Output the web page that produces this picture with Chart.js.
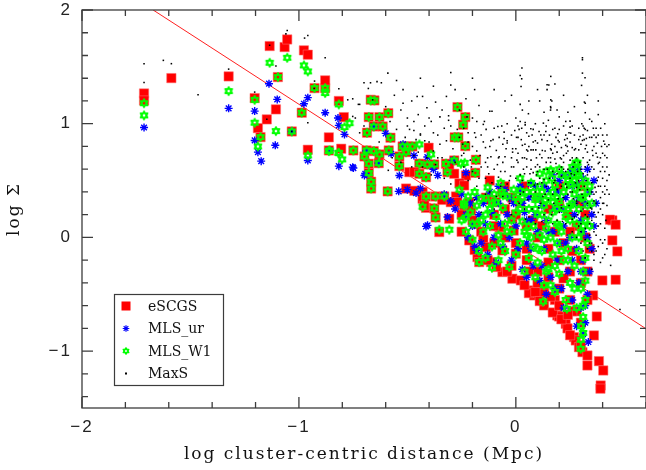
<!DOCTYPE html>
<html><head><meta charset="utf-8">
<script src="https://cdn.jsdelivr.net/npm/chart.js@4.4.1/dist/chart.umd.min.js"></script>
<style>html,body{margin:0;padding:0;background:#fff;}canvas{display:block;}</style>
</head><body><canvas id="c" width="646" height="470"></canvas>
<script>
const seriesLabels = ['eSCGS', 'MLS_ur', 'MLS_W1', 'MaxS'];
const xTitle = 'log cluster-centric distance (Mpc)';
const yTitle = 'log \u03A3';
const xTickValues = [-2, -1, 0];
const yTickValues = [-1, 0, 1, 2];
const fitX = [-1.672, 0.6];
const fitY = [2.0, -0.803];

const escgs = [
[-1.714,1.266],[-1.714,1.204],[-1.588,1.401],[-1.324,1.416],[-1.204,1.225],[-1.189,0.961],[-1.177,0.882],[-1.148,1.038],[-1.135,1.683],[-1.097,1.41],
[-1.106,1.126],[-1.066,1.674],[-1.054,1.741],[-1.033,0.932],[-0.987,1.097],[-0.977,1.645],[-0.959,1.607],[-0.959,0.771],[-0.928,1.313],[-0.879,1.313],
[-0.879,1.381],[-0.862,0.88],[-0.862,0.765],[-0.816,1.2],[-0.793,1.058],[-0.805,0.78],[-0.749,0.765],[-0.669,1.211],[-0.652,1.205],[-0.678,1.058],
[-0.629,1.058],[-0.588,1.093],[-0.655,0.976],[-0.614,0.976],[-0.686,0.921],[-0.578,0.877],[-0.698,0.712],[-0.678,0.648],[-0.632,0.653],[-0.655,0.759],
[-0.586,0.765],[-0.678,0.566],[-0.629,0.73],[-0.688,0.765],[-0.667,0.49],[-0.667,0.43],[-0.591,0.405],[-0.522,0.80],[-0.50,0.80],[-0.477,0.80],
[-0.506,0.75],[-0.537,0.712],[-0.537,0.627],[-0.491,0.574],[-0.402,0.789],[-0.408,0.642],[-0.376,0.642],[-0.445,0.648],[-0.468,0.574],[-0.322,0.648],
[-0.284,0.677],[-0.187,0.568],[-0.23,0.545],[-0.315,0.574],[-0.269,1.146],[-0.233,1.058],[-0.243,0.991],[-0.282,0.88],[-0.265,0.88],[-0.233,0.803],
[-0.184,0.683],[-0.414,0.53],[-0.445,0.56],[-0.506,0.43],[-0.468,0.41],[-0.43,0.40],[-0.43,0.34],[-0.414,0.26],[-0.414,0.36],[-0.37,0.36],
[-0.33,0.36],[-0.276,0.36],[-0.422,0.28],[-0.376,0.255],[-0.37,0.176],[-0.353,0.047],[-0.238,0.28],[-0.207,0.255],[-0.307,0.62],[-0.284,0.56],
[-0.26,0.475],[-0.238,0.457],[-0.34,0.33],[-0.30,0.31],[-0.27,0.31],[-0.307,0.164],[-0.215,0.31],[-0.207,0.237],[-0.138,0.35],[-0.115,0.33],
[-0.092,0.31],[-0.184,0.12],[-0.16,0.05],[-0.15,-0.02],[-0.138,-0.085],[-0.215,-0.026],[-0.1,-0.05],[-0.062,-0.114],[-0.07,0.09],[-0.01,0.06],
[-0.016,0.164],[-0.063,0.40],[-0.017,0.35],[0.0,-0.143],[-0.177,-0.173],[-0.19,-0.11],[-0.169,-0.217],[-0.115,-0.217],[-0.062,-0.305],[-0.016,-0.363],
[0.023,-0.378],[0.077,-0.466],[0.084,-0.51],[0.13,-0.598],[0.191,-0.686],[0.23,-0.76],[0.238,-0.80],[0.268,-0.877],[0.276,-0.906],[0.291,-0.965],
[0.307,-1.009],[0.33,-1.038],[0.33,-1.126],[0.36,-0.862],[0.373,-0.695],[0.356,-0.51],[0.383,-1.088],[0.403,-1.17],[0.391,-1.302],[0.39,-1.33],
[0.399,-0.378],[0.46,-0.372],[0.468,-0.123],[0.445,0.15],[0.434,0.156],[0.46,0.112],[0.445,-0.026],[0.13,-0.437],[0.13,-0.495],[0.199,-0.695],
[0.0,0.2],[0.05,0.1],[0.1,0.0],[0.15,-0.1],[0.2,-0.2],[0.25,-0.3],[0.3,-0.4],[0.05,-0.2],[0.1,-0.3],[0.15,-0.35],
[0.2,-0.45],[0.25,-0.55],[0.28,-0.65],[0.3,-0.75],[-0.05,0.0],[0.0,-0.05],[0.05,-0.1],[0.08,0.15],[0.12,0.1],[0.18,0.05],
[0.22,-0.05],[0.26,-0.12],[0.3,-0.2],[0.32,0.0],[0.28,0.1],[0.24,0.2],[0.3,0.3],[0.2,0.3],[0.15,0.25],[-0.1,0.2],
[-0.05,0.25],[0.02,0.3],[0.1,0.35],[-0.12,0.5],[-0.05,0.45],[0.04,0.45],[0.2,0.45],[0.3,0.45],[0.32,0.2],[0.25,0.05],
[-0.02,-0.25],[0.06,-0.3],[0.15,-0.22],[0.22,-0.36],[0.18,-0.55],[0.26,-0.65],[0.33,-0.55],[0.33,-0.3],[0.34,-0.1],[-0.1,0.1],
[-0.2,0.15],[-0.25,0.05],[-0.25,0.2],[0.06,-0.49],[0.09,-0.48],[0.11,-0.56],[0.17,-0.66],[0.21,-0.72],[0.25,-0.86],[0.3,-0.95],
[-0.09,-0.26],[-0.04,-0.3],[0.04,-0.42],[0.1,-0.4],[0.16,-0.52],[0.2,-0.6],[0.24,-0.68],[-0.13,-0.2]
];

const mlsUr = [
[-1.714,0.967],[-1.324,1.135],[-1.204,1.111],[-1.204,0.853],[-1.189,0.75],[-1.174,0.671],[-1.138,1.352],[-1.1,1.214],[-1.109,0.81],[-1.033,0.932],
[-0.977,1.176],[-0.959,1.229],[-0.959,0.677],[-0.879,1.097],[-0.859,0.765],[-0.79,0.906],[-0.816,0.985],[-0.816,0.627],[-0.749,0.61],[-0.752,0.618],
[-0.82,1.05],[-0.694,0.56],[-0.655,0.976],[-0.698,0.545],[-0.60,0.915],[-0.575,0.736],[-0.52,0.82],[-0.537,0.545],[-0.54,0.405],[-0.408,0.707],
[-0.36,0.546],[-0.29,0.677],[-0.23,0.57],[-0.414,0.097],[-0.407,0.106],[-0.315,0.179],[-0.181,-0.114],[-0.33,0.38],[-0.3,0.32],[-0.28,0.25],
[-0.634,0.653],[-0.69,0.76],[-0.5,0.42],[-0.46,0.39],[-0.44,0.43],[-0.47,0.72],[-0.38,0.6],
[-0.25,0.38],[-0.23,0.20],[-0.22,0.0],[-0.21,0.30],[-0.2,0.10],[-0.19,-0.08],[-0.18,0.35],[-0.17,0.2],[-0.16,-0.05],[-0.15,0.30],
[-0.14,0.12],[-0.13,-0.15],[-0.12,0.40],[-0.11,0.22],[-0.1,0.0],[-0.09,-0.22],[-0.08,0.30],[-0.07,0.12],[-0.06,-0.08],[-0.05,0.42],
[-0.04,0.20],[-0.03,0.0],[-0.02,-0.20],[-0.01,0.30],[0.0,0.10],[0.01,-0.10],[0.02,0.42],[0.03,-0.28],[0.04,0.22],[0.05,-0.05],
[0.06,0.35],[0.07,0.15],[0.08,-0.25],[0.09,0.45],[0.1,0.05],[0.11,-0.38],[0.12,0.28],[0.13,-0.10],[0.14,0.15],[0.15,0.42],
[0.16,-0.35],[0.17,0.05],[0.18,0.25],[0.19,-0.20],[0.2,0.50],[0.21,-0.45],[0.22,0.10],[0.23,0.35],[0.24,-0.30],[0.25,0.0],
[0.26,0.45],[0.26,-0.55],[0.27,0.20],[0.28,-0.10],[0.29,0.35],[0.29,-0.40],[0.3,0.15],[0.3,-0.62],[0.31,0.52],[0.31,-0.20],
[0.32,-0.75],[0.32,0.30],[0.33,0.0],[0.33,-0.50],[0.34,0.40],[0.34,-0.30],[0.35,0.20],[0.35,-0.1],[0.334,-0.92],[0.31,-0.85],
[0.261,0.589],[0.28,0.47],[0.22,0.55],[0.36,0.5],[0.37,0.3],[0.36,0.1],[0.05,-0.35],[0.14,-0.5],[0.22,-0.62],[0.28,-0.78],
[0.069,0.47],[0.02,0.45],[0.261,0.596],
[0.03,0.3],[0.07,-0.1],[0.11,0.35],[0.15,0.05],[0.19,0.4],[0.23,-0.05],[0.27,0.3],[0.31,0.05],[0.25,0.55],[0.17,0.55],
[0.13,0.45],[0.09,0.2],[0.05,0.15],[-0.03,0.35],[-0.08,0.45],[0.21,0.25],[0.29,0.6],[0.33,0.6],[0.32,-0.6],[0.3,-0.3],
[0.18,-0.45],[0.12,-0.25],[0.26,-0.2],[0.2,-0.05]
];

const mlsW1 = [
[-1.714,1.18],[-1.714,1.073],[-1.324,1.287],[-1.204,1.21],[-1.204,1.009],[-1.189,0.80],[-1.177,0.882],[-1.135,1.536],[-1.097,1.41],[-1.106,0.935],
[-1.054,1.58],[-1.033,0.932],[-0.987,1.097],[-0.977,1.513],[-0.959,1.46],[-0.959,0.721],[-0.928,1.313],[-0.879,1.313],[-0.879,1.27],[-0.859,0.765],
[-0.862,0.759],[-0.816,0.741],[-0.801,0.686],[-0.749,0.765],[-0.816,1.17],[-0.767,1.005],[-0.79,0.97],[-0.818,0.745],
[-0.669,1.205],[-0.652,1.205],[-0.678,1.058],[-0.629,1.058],[-0.588,1.093],[-0.655,0.976],[-0.614,0.976],[-0.686,0.921],[-0.578,0.877],[-0.698,0.712],
[-0.678,0.648],[-0.632,0.653],[-0.655,0.759],[-0.586,0.765],[-0.678,0.566],[-0.629,0.73],[-0.688,0.765],[-0.667,0.49],[-0.667,0.43],[-0.591,0.405],
[-0.522,0.80],[-0.50,0.80],[-0.477,0.80],[-0.506,0.75],[-0.537,0.712],[-0.537,0.627],[-0.445,0.818],[-0.391,0.73],[-0.408,0.642],[-0.376,0.642],
[-0.445,0.648],[-0.322,0.648],[-0.284,0.677],[-0.253,0.648],[-0.236,0.656],[-0.184,0.683],[-0.187,0.568],[-0.315,0.574],[-0.269,1.146],[-0.233,1.058],
[-0.243,0.991],[-0.282,0.88],[-0.265,0.88],[-0.233,0.803],[-0.445,0.56],[-0.414,0.53],[-0.43,0.27],[-0.376,0.255],[-0.37,0.176],[-0.353,0.068],
[-0.307,0.068],[-0.414,0.36],[-0.37,0.36],[-0.33,0.36],[-0.238,0.28],[-0.23,0.176],[-0.2,0.12],[-0.169,-0.217],[-0.11,-0.267],[-0.138,0.35],
[-0.092,0.31],[-0.063,0.40],
[-0.26,0.42],[-0.24,0.30],[-0.25,0.15],[-0.23,0.05],[-0.22,0.36],[-0.21,0.22],[-0.2,-0.02],[-0.19,0.40],[-0.18,0.12],[-0.18,0.28],
[-0.17,-0.12],[-0.16,0.34],[-0.15,0.05],[-0.14,0.20],[-0.14,-0.18],[-0.13,0.44],[-0.12,0.10],[-0.11,0.30],[-0.11,-0.08],[-0.10,0.38],
[-0.09,0.18],[-0.08,-0.20],[-0.08,0.02],[-0.07,0.48],[-0.06,0.26],[-0.05,0.12],[-0.05,-0.12],[-0.04,0.36],[-0.03,-0.26],[-0.02,0.05],
[-0.01,0.42],[0.0,0.22],[0.0,-0.15],[0.01,0.32],[0.02,-0.05],[0.02,0.52],[0.03,0.14],[0.04,-0.30],[0.05,0.40],[0.05,0.02],
[0.06,0.25],[0.06,-0.18],[0.07,0.48],[0.08,-0.08],[0.08,0.10],[0.09,0.33],[0.09,-0.35],[0.10,0.20],[0.10,-0.22],[0.11,0.56],
[0.11,0.02],[0.12,0.40],[0.12,-0.12],[0.13,-0.42],[0.13,0.28],[0.14,0.08],[0.14,0.50],[0.15,-0.28],[0.15,0.36],[0.16,0.0],
[0.16,0.59],[0.17,-0.15],[0.17,0.22],[0.18,0.46],[0.18,-0.48],[0.19,0.12],[0.19,-0.05],[0.2,0.32],[0.2,-0.32],[0.21,0.55],
[0.21,0.05],[0.22,-0.20],[0.22,0.40],[0.23,-0.55],[0.23,0.18],[0.24,0.50],[0.24,-0.10],[0.25,0.28],[0.25,-0.40],[0.26,0.62],
[0.26,0.0],[0.27,0.38],[0.27,-0.25],[0.28,0.12],[0.28,-0.62],[0.28,0.54],[0.29,-0.12],[0.29,0.25],[0.3,-0.45],[0.3,0.45],
[0.3,0.05],[0.31,-0.30],[0.31,-0.70],[0.31,0.35],[0.32,-0.18],[0.32,0.15],[0.32,-0.55],[0.33,-0.05],[0.33,0.28],[0.31,-0.84],
[0.3,-0.78],[0.32,-0.38],[0.34,0.45],[0.34,0.1],[0.35,0.3],
[0.284,0.657],[0.161,0.589],[0.26,0.54],[0.167,0.52],[0.25,0.47],[0.275,0.43],[0.10,0.35],[0.135,0.33],[0.17,0.31],[0.02,0.41],
[-0.06,0.37],[0.19,0.25],[0.24,0.25],[0.276,0.657],[0.24,0.55],[0.29,0.55],[0.126,-0.563],[0.235,-0.627],[0.299,-0.979],[0.3,-0.9],
[0.31,-0.6],
[-0.02,0.15],[0.03,0.35],[0.07,0.0],[0.09,0.25],[0.11,0.45],[0.13,-0.02],[0.15,0.15],[0.17,0.40],[0.19,0.35],[0.21,-0.12],
[0.23,0.45],[0.25,0.15],[0.27,0.5],[0.29,0.0],[0.31,0.1],[0.33,0.4],[0.22,0.25],[0.2,0.1],[0.18,-0.25],[0.16,-0.42],
[0.14,-0.3],[0.12,0.2],[0.1,-0.1],[0.08,0.4],[0.06,0.1],[0.04,0.05],[0.02,0.25],[0.0,0.35],[-0.04,0.05],[-0.07,-0.05],
[-0.12,0.25],[-0.16,0.15],[0.26,0.3],[0.3,0.35],[0.32,0.5],[0.28,0.6],[0.2,0.6],[0.14,0.58],[0.24,-0.2],[0.27,-0.45]
];

const maxS = [
[-1.714,1.528],[-1.714,1.363],[-1.625,1.557],[-1.588,1.528],[-1.465,1.255],[-1.324,1.48],[-1.204,1.278],[-1.106,1.507],[-1.06,1.79],[-1.054,1.82],
[-0.974,1.753],[-0.959,1.776],[-0.959,1.008],[-0.928,1.375],[-0.879,1.58],[-0.816,1.308],[-0.775,1.21],[-0.752,1.219],[-0.752,1.064],[-0.726,1.17],
[-1.135,1.69],[-1.148,1.04],[-1.033,0.932],[-0.93,1.31],
[-0.74,1.05],[-0.72,0.92],[-0.70,1.36],[-0.68,1.31],[-0.67,1.36],[-0.64,1.37],[-0.62,1.36],[-0.66,1.21],[-0.60,1.15],[-0.59,1.445],
[-0.58,1.02],[-0.56,1.25],[-0.55,0.95],[-0.53,1.12],[-0.52,1.3],[-0.51,0.88],[-0.72,1.17],[-0.70,0.98],[-0.63,0.84],[-0.57,0.70],
[-0.53,0.66],[-0.50,1.05],[-0.52,1.18],[-0.588,0.59],[-0.50,0.98],[-0.47,0.94],[-0.44,0.90],
[-0.49,0.95],[-0.48,1.20],[-0.47,0.72],[-0.455,1.24],[-0.45,1.08],[-0.44,0.91],[-0.43,1.24],[-0.42,0.98],[-0.41,1.14],[-0.40,0.84],
[-0.39,1.02],[-0.38,0.76],[-0.37,1.19],[-0.36,0.90],[-0.35,1.06],[-0.34,0.70],[-0.33,0.96],[-0.32,1.24],[-0.31,1.07],[-0.31,1.03],
[-0.30,1.34],[-0.29,0.78],[-0.28,1.30],[-0.27,0.95],[-0.26,1.12],[-0.25,0.72],[-0.46,0.86],[-0.43,0.62],[-0.39,0.55],[-0.35,0.82],
[-0.33,0.52],[-0.30,0.47],[-0.47,1.02],[-0.41,0.70],[-0.37,0.64],
[-0.24,0.96],[-0.23,1.22],[-0.22,0.84],[-0.21,0.68],[-0.20,1.05],[-0.20,0.58],[-0.19,0.92],[-0.18,0.76],[-0.17,1.16],[-0.16,0.62],
[-0.15,0.994],[-0.15,0.84],[-0.14,0.79],[-0.137,0.95],[-0.13,0.70],[-0.12,1.11],[-0.115,0.85],[-0.115,0.71],[-0.11,1.11],[-0.10,0.60],
[-0.09,0.765],[-0.083,0.976],[-0.08,0.53],[-0.077,0.71],[-0.077,0.88],[-0.07,0.45],[-0.06,0.66],[-0.054,0.926],[-0.054,0.87],[-0.05,0.58],
[-0.04,0.85],[-0.04,0.83],[-0.03,0.50],[-0.02,0.70],[-0.015,0.78],[-0.015,0.75],[-0.01,0.62],[-0.22,0.50],[-0.18,0.45],[-0.14,0.52],
[-0.24,0.62],[-0.19,1.30],[-0.12,0.40],[-0.06,0.36],[-0.03,0.30],[-0.10,0.25],[-0.14,0.38],[-0.02,0.20],
[0.003,0.88],[0.01,0.88],[0.015,0.95],[0.02,1.17],[0.02,1.424],[0.024,1.328],[0.027,1.395],[0.028,1.49],[0.027,0.96],[0.03,1.12],
[0.043,1.01],[0.043,0.99],[0.042,0.82],[0.05,0.77],[0.058,1.088],[0.069,0.956],[0.07,0.77],[0.08,0.77],[0.092,0.77],[0.107,0.932],
[0.122,0.765],[0.127,1.005],[0.138,0.932],[0.144,1.343],[0.144,1.30],[0.15,1.03],[0.01,0.66],[0.02,0.55],[0.03,0.70],[0.05,0.62],
[0.06,0.48],[0.07,0.68],[0.08,0.57],[0.09,0.40],[0.10,0.64],[0.11,0.52],[0.12,0.70],[0.13,0.60],[0.14,0.45],[0.035,0.40],
[0.055,0.33],[0.075,0.25],[0.095,0.55],[0.115,0.30],[0.135,0.38],[0.145,0.85],[0.10,0.83],[0.06,0.89],[0.13,0.2],[0.09,0.12],
[0.11,1.2],[0.04,0.25],[0.12,0.48],
[0.152,1.34],[0.161,1.416],[0.161,1.21],[0.16,1.15],[0.16,1.12],[0.166,1.199],[0.161,1.14],[0.163,0.77],[0.165,0.82],[0.17,0.74],
[0.193,0.912],[0.195,0.853],[0.21,0.79],[0.21,0.69],[0.23,0.81],[0.233,0.74],[0.237,0.87],[0.237,0.80],[0.25,1.023],[0.25,0.97],
[0.253,0.917],[0.26,0.79],[0.26,0.70],[0.27,0.77],[0.29,0.77],[0.296,0.888],[0.16,0.66],[0.17,0.58],[0.18,0.50],[0.185,0.65],
[0.19,0.42],[0.20,0.60],[0.21,0.54],[0.22,0.35],[0.22,0.66],[0.23,0.47],[0.24,0.60],[0.245,0.28],[0.25,0.52],[0.26,0.40],
[0.265,0.62],[0.27,0.18],[0.275,0.48],[0.28,0.30],[0.285,0.58],[0.29,0.10],[0.295,0.42],[0.2,1.06],[0.18,0.96],[0.22,0.98],
[0.175,0.30],[0.2,0.22],[0.23,0.12],[0.26,0.05],[0.28,0.0],[0.19,0.15],[0.155,0.52],[0.17,0.38],[0.25,0.68],[0.21,0.45],
[0.27,0.9],[0.24,1.1],[0.3,0.6],
[0.303,1.337],[0.307,1.58],[0.307,1.563],[0.307,1.445],[0.319,1.405],[0.316,1.19],[0.32,1.18],[0.32,1.097],[0.304,1.00],[0.31,0.98],
[0.315,0.96],[0.33,0.94],[0.307,0.853],[0.325,0.87],[0.325,0.81],[0.35,0.88],[0.353,0.765],[0.357,0.96],[0.37,0.96],[0.376,0.83],
[0.376,0.706],[0.391,0.96],[0.405,0.847],[0.42,0.70],[0.429,0.815],[0.41,0.82],[0.31,0.70],[0.32,0.62],[0.33,0.55],[0.34,0.68],
[0.35,0.48],[0.36,0.60],[0.37,0.40],[0.38,0.53],[0.39,0.35],[0.40,0.62],[0.41,0.45],[0.42,0.28],[0.31,0.35],[0.32,0.20],
[0.33,0.30],[0.34,0.12],[0.35,0.25],[0.36,0.05],[0.37,0.18],[0.38,0.10],[0.39,-0.02],[0.40,0.20],[0.41,0.08],[0.42,-0.10],
[0.437,-0.246],[0.48,-0.633],[0.40,-0.18],[0.38,-0.08],[0.36,-0.15],[0.34,-0.05],[0.35,-0.28],[0.42,0.5],[0.43,0.38],[0.4,0.74],
[0.36,0.9],[0.34,1.04],[0.38,1.08],[0.33,0.75],[0.315,0.45],
[0.3,-0.05],[0.31,-0.12],[0.32,-0.18],[0.33,-0.1],[0.35,-0.05],[0.36,-0.2],[0.37,-0.12],[0.39,-0.22],[0.41,-0.15],[0.4,-0.05],
[0.3,0.05],[0.32,0.08],[0.34,0.02],[0.31,0.25],[0.35,0.15],[0.37,0.3],[0.39,0.45],[0.41,0.38],[0.43,0.55],
[-0.19,0.33],[-0.17,0.52],[-0.16,0.22],[-0.13,0.62],[-0.11,0.48],[-0.09,0.36],[-0.07,0.58],[-0.05,0.71],[-0.04,0.47],[-0.02,0.62],
[0.0,0.52],[0.01,0.74],[0.02,0.38],[0.03,0.81],[0.04,0.56],[0.05,0.69],[0.06,0.18],[0.07,0.36],[0.08,0.84],[0.09,0.62],
[0.1,0.47],[0.11,0.73],[0.12,0.14],[0.13,0.51],[0.14,0.66],[0.15,0.33],[0.16,0.78],[0.17,0.12],[0.18,0.69],[0.19,0.56],
[0.2,0.84],[0.21,0.26],[0.22,0.72],[0.23,0.58],[0.24,0.38],[0.25,0.84],[0.26,0.16],[0.27,0.66],[0.28,0.44],[0.29,0.86],
[0.3,0.23],[0.31,0.56],[0.32,0.78],[0.33,0.42],[0.34,0.88],[0.35,0.62],[0.36,0.32],[0.37,0.74],[0.38,0.22],[0.39,0.58],
[0.4,0.4],[0.41,0.72],[0.42,0.62],[0.415,0.15],[0.405,0.3],[0.395,0.8],[0.385,0.66],[0.375,0.5],[0.365,0.44],[0.355,0.72],
[0.345,0.26],[0.335,0.64],[0.325,0.5],[0.315,0.86],[0.305,0.38],[0.295,0.66],[0.285,0.2],[0.275,0.78],[0.265,0.34],[0.255,0.56],
[0.245,0.92],[0.235,0.44],[0.225,0.86],[0.215,0.14],[0.205,0.7],[0.195,0.34],[0.185,0.88],[0.175,0.48],[0.165,0.2],[0.155,0.9],
[0.145,0.6],[0.135,0.76],[0.125,0.36],[0.115,0.9],[0.105,0.26],[0.095,0.7],[0.085,0.46],[0.075,0.9],[0.065,0.56],[0.055,0.76],
[0.045,0.16],[0.035,0.6],[0.025,0.86],[0.015,0.3],[0.005,0.68],[-0.005,0.94],[-0.025,0.54],[-0.045,0.78],[-0.065,0.98],[-0.085,0.64],
[-0.105,0.86],[-0.125,0.56],[-0.145,1.02],[-0.165,0.72],[-0.185,0.88],[-0.205,0.62],[-0.225,1.06],[-0.245,0.82],[0.39,0.12],[0.37,0.02],
[0.35,-0.12],[0.41,-0.02],[0.33,0.18],[0.3,0.12],[0.28,0.32],[0.32,-0.02],[0.36,0.38],[0.4,0.52],[0.38,0.9],[0.42,0.9],
[0.29,0.96],[0.23,1.02],[0.19,1.12],[0.13,1.1],[0.09,1.0],[0.06,1.2],[0.35,1.02],[0.41,1.0],[0.27,1.15],[0.33,1.25],
[0.22,1.25],[0.1,1.3],[-0.05,1.2],[-0.1,1.3],[-0.3,1.45],[-0.38,1.33],[-0.44,1.4],[-0.55,1.38],[-0.2,1.4],[0.0,1.05],
[-0.02,1.25],[0.18,1.35],[0.38,1.2],
[-0.48,0.62],[-0.45,0.75],[-0.42,0.85],[-0.4,1.05],[-0.38,0.92],[-0.36,0.7],[-0.34,1.12],[-0.32,0.85],[-0.3,0.98],[-0.28,0.66],
[-0.26,0.88],[-0.24,0.74],[-0.22,0.92],[-0.2,0.8],[-0.18,1.02],[-0.16,0.9],[-0.14,0.66],[-0.12,0.8],[-0.1,0.96],[-0.08,0.7],
[-0.06,0.82],[-0.04,1.0],[-0.02,0.9],[0.0,0.78],[0.02,1.02],[0.04,0.7],[0.06,0.8],[0.08,0.95],[0.1,0.58],[0.12,0.86],
[0.14,0.98],[0.16,0.7],[0.18,0.8],[0.2,0.95],[0.22,0.6],[0.24,0.76],[0.26,0.98],[0.28,0.7],[0.3,0.82],[0.32,0.95],
[0.34,0.58],[0.36,0.8],[0.38,0.65],[0.4,0.9],[0.42,0.8],[0.41,0.58],[0.39,0.7],[0.37,0.88],[0.35,0.4],[0.33,0.66],
[0.31,0.9],[0.29,0.5],[0.27,0.55],[0.25,0.4],[0.23,0.9],[0.21,0.62],[0.19,0.75],[0.17,0.95],[0.15,0.7],[0.13,0.9],
[0.11,0.62],[0.09,0.85],[0.07,0.6],[0.05,0.92],[0.03,0.5],[0.01,0.98],[0.4,0.3],[0.38,0.45],[0.42,0.42],[0.36,0.22],
[0.34,0.36],[0.39,0.25]
];

const toXY = arr => arr.map(p => ({x: p[0], y: p[1]}));

function makeHexagram(color, r, lw) {
  const s = Math.ceil(2 * r + 2 * lw + 2);
  const c = document.createElement('canvas');
  c.width = s; c.height = s;
  const g = c.getContext('2d');
  g.strokeStyle = color; g.lineWidth = lw; g.lineJoin = 'round';
  const cx = s / 2, cy = s / 2;
  [-Math.PI / 2, Math.PI / 2].forEach(off => {
    g.beginPath();
    for (let k = 0; k < 3; k++) {
      const a = off + k * 2 * Math.PI / 3;
      const px = cx + r * Math.cos(a), py = cy + r * Math.sin(a);
      if (k === 0) g.moveTo(px, py); else g.lineTo(px, py);
    }
    g.closePath(); g.stroke();
  });
  return c;
}
const hexStar = makeHexagram('#00ff00', 4.2, 1.6);
const hexStarSmall = makeHexagram('#00ff00', 3.2, 1.4);

const fmt = v => Number.isInteger(v) ? (v < 0 ? '\u2212' + (-v) : String(v)) : '';
const zeroPad = s => { s.paddingTop = 0; s.paddingBottom = 0; s.paddingLeft = 0; s.paddingRight = 0; };

const framePlugin = {
  id: 'frame',
  beforeDraw(chart) { chart.ctx.letterSpacing = '2px'; },
  afterDraw(chart) {
    const ctx = chart.ctx;
    ctx.letterSpacing = '0px';
    const {left, right, top, bottom} = chart.chartArea;
    const xs = chart.scales.x, ys = chart.scales.y;
    ctx.save();
    ctx.strokeStyle = '#3c3c3c';
    ctx.lineWidth = 1.3;
    ctx.strokeRect(left, top, right - left, bottom - top);
    ctx.beginPath();
    for (let k = -10; k <= 3; k++) {
      const v = k / 5;
      const px = xs.getPixelForValue(v);
      if (px < left - 0.5 || px > right + 0.5) continue;
      const len = (k % 5 === 0) ? 11 : 6;
      ctx.moveTo(px, bottom); ctx.lineTo(px, bottom - len);
      ctx.moveTo(px, top); ctx.lineTo(px, top + len);
    }
    for (let k = -7; k <= 10; k++) {
      const v = k / 5;
      const py = ys.getPixelForValue(v);
      if (py < top - 0.5 || py > bottom + 0.5) continue;
      const len = (k % 5 === 0) ? 11 : 6;
      ctx.moveTo(left, py); ctx.lineTo(left + len, py);
      ctx.moveTo(right, py); ctx.lineTo(right - len, py);
    }
    ctx.stroke();

    const bx = 114.5, by = 294.5, bw = 109, bh = 91;
    ctx.fillStyle = '#fff';
    ctx.fillRect(bx, by, bw, bh);
    ctx.strokeStyle = '#3c3c3c'; ctx.lineWidth = 1.2;
    ctx.strokeRect(bx, by, bw, bh);
    const mx = 126, tx = 148;
    const rows = [306, 328.5, 351, 373.5];
    ctx.font = '14px "DejaVu Serif"';
    ctx.fillStyle = '#111';
    ctx.textBaseline = 'middle';
    ctx.textAlign = 'left';
    seriesLabels.forEach((lab, i) => ctx.fillText(lab, tx, rows[i] + 1));
    ctx.fillStyle = '#ff0000';
    ctx.fillRect(mx - 4.5, rows[0] - 4.5, 9, 9);
    ctx.strokeStyle = '#0000ff'; ctx.lineWidth = 1.2;
    ctx.beginPath();
    for (let k = 0; k < 4; k++) {
      const a = k * Math.PI / 4;
      ctx.moveTo(mx - 3.3 * Math.cos(a), rows[1] - 3.3 * Math.sin(a));
      ctx.lineTo(mx + 3.3 * Math.cos(a), rows[1] + 3.3 * Math.sin(a));
    }
    ctx.stroke();
    ctx.drawImage(hexStarSmall, mx - hexStarSmall.width / 2, rows[2] - hexStarSmall.height / 2);
    ctx.fillStyle = '#000';
    ctx.fillRect(mx - 1, rows[3] - 1, 2, 2);
    ctx.restore();
  }
};

new Chart(document.getElementById('c'), {
  type: 'scatter',
  data: {
    datasets: [
      { label: seriesLabels[3], data: toXY(maxS), order: 0, pointStyle: 'rect', pointRadius: 1.1, pointBorderWidth: 0, backgroundColor: '#000', borderColor: '#000' },
      { label: seriesLabels[2], data: toXY(mlsW1), order: 1, pointStyle: hexStar, pointRadius: 4, borderColor: '#00ff00', backgroundColor: '#00ff00' },
      { label: seriesLabels[1], data: toXY(mlsUr), order: 2, pointStyle: 'star', pointRadius: 4, pointBorderWidth: 1.4, borderColor: '#0000ff', backgroundColor: 'rgba(0,0,0,0)' },
      { label: seriesLabels[0], data: toXY(escgs), order: 3, pointStyle: 'rect', pointRadius: 6.6, pointBorderWidth: 1, borderColor: 'rgba(255,110,110,0.55)', backgroundColor: '#ff0000' },
      { type: 'line', label: 'fit', data: fitX.map((x, i) => ({x, y: fitY[i]})), order: 4, borderColor: '#ff2020', borderWidth: 1, pointRadius: 0, showLine: true, fill: false }
    ]
  },
  options: {
    responsive: false,
    devicePixelRatio: 1,
    animation: false,
    events: [],
    layout: { autoPadding: false, padding: { top: 10, right: 0, left: 0, bottom: 0 } },
    plugins: { legend: { display: false }, tooltip: { enabled: false } },
    scales: {
      x: {
        type: 'linear', min: -2, max: 0.6,
        afterFit: s => { s.height = 62; zeroPad(s); },
        afterBuildTicks: s => { s.ticks = xTickValues.map(v => ({value: v})); },
        grid: { display: false, drawTicks: false },
        border: { display: false },
        ticks: { padding: 9, maxRotation: 0, autoSkip: false, color: '#222', font: { family: 'Liberation Sans', size: 17 }, callback: fmt },
        title: { display: true, text: xTitle, color: '#111', font: { family: 'DejaVu Serif', size: 17 }, padding: { top: 0, bottom: 5 } }
      },
      y: {
        type: 'linear', min: -1.5, max: 2,
        afterFit: s => { s.width = 82; zeroPad(s); },
        afterBuildTicks: s => { s.ticks = yTickValues.map(v => ({value: v})); },
        grid: { display: false, drawTicks: false },
        border: { display: false },
        ticks: { padding: 10, autoSkip: false, color: '#222', font: { family: 'Liberation Sans', size: 17 }, callback: fmt },
        title: { display: true, text: yTitle, color: '#111', font: { family: 'DejaVu Serif', size: 17 }, padding: { top: 4, bottom: 0 } }
      }
    }
  },
  plugins: [framePlugin]
});
</script>
</body></html>
